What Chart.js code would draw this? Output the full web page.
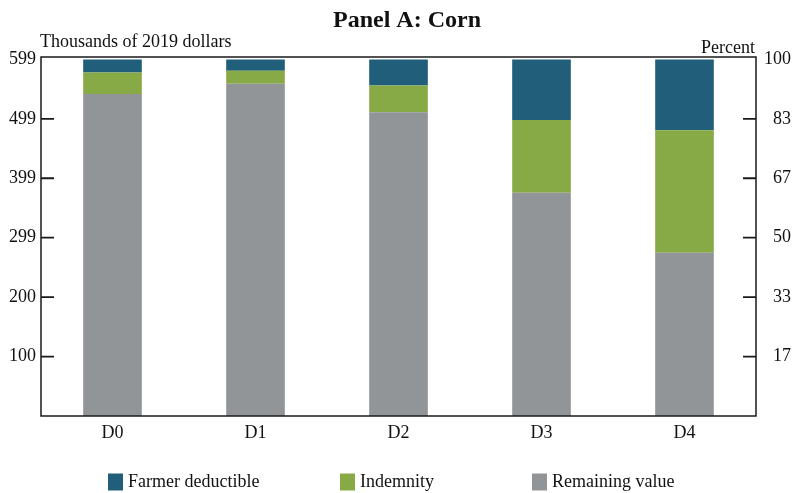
<!DOCTYPE html>
<html>
<head>
<meta charset="utf-8">
<script src="https://cdn.jsdelivr.net/npm/chart.js@4.4.1/dist/chart.umd.min.js"></script>
<style>
  html, body { margin: 0; padding: 0; background: #fff; }
</style>
</head>
<body>
<canvas id="chart" width="796" height="493"></canvas>
<script>
// thousands of 2019 dollars
const categories = ["D0", "D1", "D2", "D3", "D4"];
const remainingValue = [541, 558, 510, 375, 274];
const indemnity = [36, 22, 45, 122, 206];
const farmerDeductible = [22, 19, 44, 102, 119];

const totalValue = 599;
const leftTickLabels = ["100", "200", "299", "399", "499", "599"];
const rightTickLabels = ["17", "33", "50", "67", "83", "100"];

const FONT = "'Liberation Serif', 'Times New Roman', serif";
const INK = "#1a1a1a";

const framePlugin = {
  id: "frame",
  afterDraw(chart) {
    const { ctx, chartArea: a, scales } = chart;
    ctx.save();

    // box round the plot
    ctx.strokeStyle = INK;
    ctx.lineWidth = 1.5;
    ctx.strokeRect(a.left, a.top, a.right - a.left, a.bottom - a.top);

    // inward tick marks on both value axes
    ctx.lineWidth = 1.8;
    ctx.beginPath();
    scales.y.ticks.slice(0, -1).forEach(t => {
      const py = scales.y.getPixelForValue(t.value);
      ctx.moveTo(a.left, py);
      ctx.lineTo(a.left + 13, py);
    });
    scales.y1.ticks.slice(0, -1).forEach(t => {
      const py = scales.y1.getPixelForValue(t.value);
      ctx.moveTo(a.right - 13, py);
      ctx.lineTo(a.right, py);
    });
    ctx.stroke();

    // title and axis titles
    ctx.fillStyle = "#111";
    ctx.textBaseline = "alphabetic";
    ctx.font = "bold 24px " + FONT;
    ctx.textAlign = "center";
    ctx.fillText("Panel A: Corn", 407, 27);

    ctx.font = "18px " + FONT;
    ctx.textAlign = "left";
    ctx.fillText("Thousands of 2019 dollars", a.left - 1, 46.5);
    ctx.textAlign = "right";
    ctx.fillText("Percent", a.right - 1, 52.5);

    // legend, top series first
    const legendX = [108, 340, 532];
    const items = chart.data.datasets.slice().reverse();
    ctx.textAlign = "left";
    ctx.textBaseline = "middle";
    items.forEach((ds, i) => {
      ctx.fillStyle = ds.backgroundColor;
      ctx.fillRect(legendX[i], 473.5, 15, 17);
      ctx.fillStyle = "#111";
      ctx.fillText(ds.label, legendX[i] + 20, 482.5);
    });

    ctx.restore();
  }
};

new Chart(document.getElementById("chart"), {
  type: "bar",
  data: {
    labels: categories,
    datasets: [
      { label: "Remaining value", data: remainingValue, backgroundColor: "#929598" },
      { label: "Indemnity", data: indemnity, backgroundColor: "#88aa46" },
      { label: "Farmer deductible", data: farmerDeductible, backgroundColor: "#215e79" },
    ],
  },
  options: {
    responsive: false,
    animation: false,
    layout: { padding: { top: 57, left: 0, right: 5, bottom: 0 } },
    datasets: { bar: { barPercentage: 0.41, categoryPercentage: 1 } },
    plugins: {
      legend: { display: false },
      title: { display: false },
      tooltip: { enabled: false },
    },
    scales: {
      x: {
        stacked: true,
        grid: { display: false, drawTicks: false },
        border: { display: false },
        ticks: { color: "#111", font: { family: FONT, size: 18 }, padding: 6 },
        afterFit: s => { s.height = 77; },
      },
      y: {
        stacked: true,
        position: "left",
        min: 0,
        max: 603,
        grid: { display: false, drawTicks: false },
        border: { display: false },
        afterBuildTicks: s => {
          s.ticks = leftTickLabels.map((_, i) => ({ value: totalValue * (i + 1) / 6 }));
        },
        ticks: {
          color: "#111",
          font: { family: FONT, size: 18 },
          padding: 5,
          callback: (v, i) => leftTickLabels[i],
        },
        afterFit: s => { s.width = 41; },
      },
      y1: {
        position: "right",
        min: 0,
        max: 100 * 603 / totalValue,
        grid: { display: false, drawTicks: false },
        border: { display: false },
        afterBuildTicks: s => {
          s.ticks = rightTickLabels.map((_, i) => ({ value: 100 * (i + 1) / 6 }));
        },
        ticks: {
          color: "#111",
          font: { family: FONT, size: 18 },
          padding: 8,
          crossAlign: "far",
          callback: (v, i) => rightTickLabels[i],
        },
        afterFit: s => { s.width = 35; },
      },
    },
  },
  plugins: [framePlugin],
});
</script>
</body>
</html>
